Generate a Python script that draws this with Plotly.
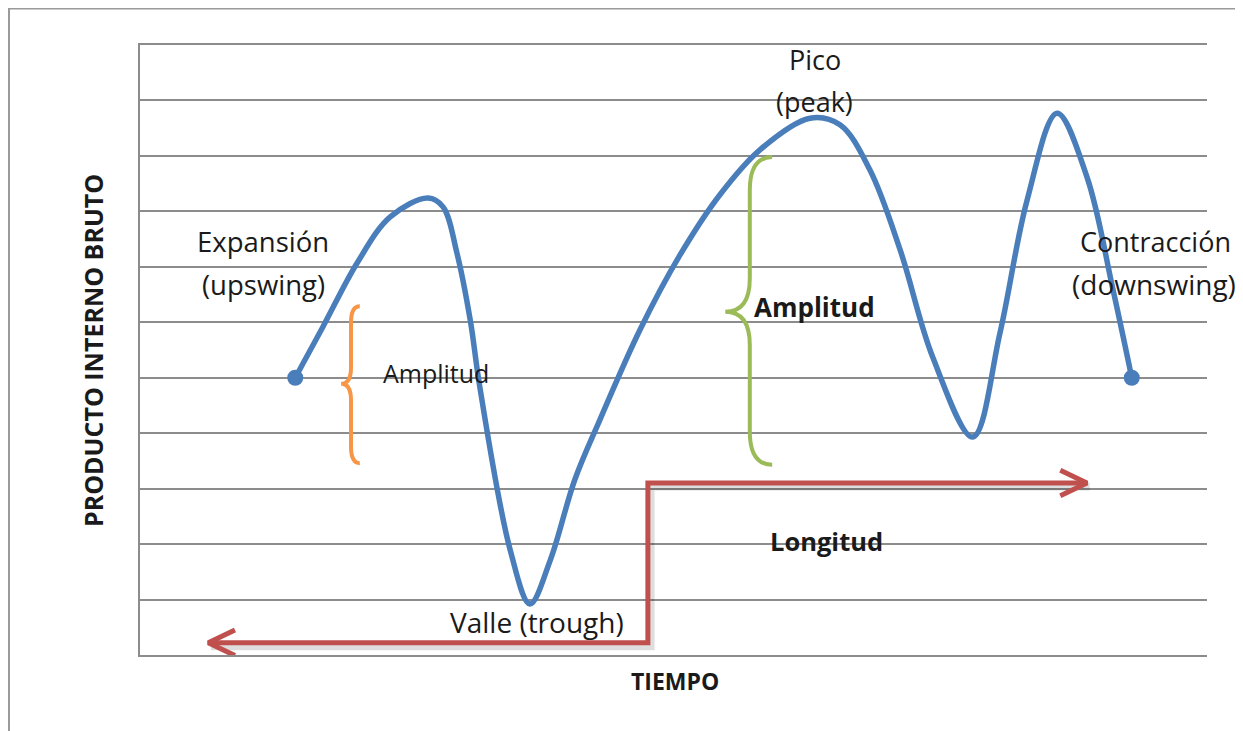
import plotly.graph_objects as go

# ---- data ----
tiempo = [2.91, 3.43, 4.07, 4.69, 5.40, 5.68, 5.94, 6.19, 6.37, 6.94, 7.31, 7.69, 8.15, 8.62,
          9.37, 10.12, 10.87, 11.62, 12.56, 13.12, 13.68, 14.25, 14.86, 15.61, 16.12, 16.63,
          17.19, 17.75, 18.24, 18.59]
pib = [5.00, 5.92, 7.07, 7.90, 8.24, 8.08, 7.25, 6.04, 4.83, 1.89, 0.92, 1.71, 3.16, 4.24,
       5.86, 7.21, 8.30, 9.11, 9.68, 9.56, 8.75, 7.30, 5.37, 3.93, 5.81, 8.21,
       9.77, 8.62, 6.58, 5.00]

longitud_x = [17.75, 9.52, 9.52, 1.28]
longitud_y = [3.10, 3.10, 0.22, 0.22]

# braces: (x_end, x_stem, x_tip, y_top, y_tip, y_bot)
brace_orange = (4.12, 3.955, 3.77, 6.29, 4.89, 3.46)
brace_green = (11.85, 11.43, 10.97, 8.98, 6.19, 3.43)

BLUE = "#4A7EBB"
RED = "#C0504D"
ORANGE = "#F79646"
GREEN = "#9BBB59"
GRID = "#8C8C8C"
TXT = "#1a1a1a"
FONT = "Open Sans"

fig = go.Figure()

# shadow of the red arrow
fig.add_trace(go.Scatter(x=[v + 0.05 for v in longitud_x], y=[v - 0.06 for v in longitud_y],
                         mode="lines", line=dict(color="rgba(0,0,0,0.13)", width=8),
                         hoverinfo="skip", showlegend=False))
# red arrow path
fig.add_trace(go.Scatter(x=longitud_x, y=longitud_y, mode="lines",
                         line=dict(color=RED, width=5), hoverinfo="skip", showlegend=False))
# arrowheads (chevrons) at both ends
ah_dx, ah_dy = 0.50, 0.23
lx, ly = longitud_x[-1], longitud_y[-1]
rx, ry = longitud_x[0], longitud_y[0]
fig.add_trace(go.Scatter(x=[lx + ah_dx, lx, lx + ah_dx], y=[ly + ah_dy, ly, ly - ah_dy], mode="lines",
                         line=dict(color=RED, width=5), hoverinfo="skip", showlegend=False))
fig.add_trace(go.Scatter(x=[rx - ah_dx, rx, rx - ah_dx], y=[ry + ah_dy, ry, ry - ah_dy], mode="lines",
                         line=dict(color=RED, width=5), hoverinfo="skip", showlegend=False))

# business cycle curve
fig.add_trace(go.Scatter(x=tiempo, y=pib, mode="lines",
                         line=dict(color=BLUE, width=5.5, shape="spline", smoothing=1.0),
                         hoverinfo="skip", showlegend=False))
fig.add_trace(go.Scatter(x=[tiempo[0], tiempo[-1]], y=[pib[0], pib[-1]], mode="markers",
                         marker=dict(color=BLUE, size=16), hoverinfo="skip", showlegend=False))


def brace_path(b, r):
    xe, xs, xt, yt, yc, yb = b
    return (f"M {xe},{yt} Q {xs},{yt} {xs},{yt - r} L {xs},{yc + r} "
            f"Q {xs},{yc} {xt},{yc} Q {xs},{yc} {xs},{yc - r} "
            f"L {xs},{yb + r} Q {xs},{yb} {xe},{yb}")


shapes = [
    dict(type="path", xref="x", yref="y", path=brace_path(brace_orange, 0.30),
         line=dict(color=ORANGE, width=4)),
    dict(type="path", xref="x", yref="y", path=brace_path(brace_green, 0.60),
         line=dict(color=GREEN, width=4)),
]

# page offset (body margin) compensation: figure starts at screen pixel 8
OFF = 8
W, H = 1243 - OFF, 731 - OFF
L_S, T_S, PW, PH = 140, 45, 1067, 610   # plot area in screen pixels


def px(xp):
    return (xp - L_S) / PW


def py(yp):
    return (T_S + PH - yp) / PH


shapes.append(dict(type="rect", xref="paper", yref="paper", x0=px(9), x1=px(1239),
                   y0=py(760), y1=py(8.5), line=dict(color="#9a9a9a", width=2), fillcolor="rgba(0,0,0,0)"))

ann = []


def txt(x, y, s, size=27, bold=False, xref="x", yref="y", angle=0):
    ann.append(dict(x=x, y=y, xref=xref, yref=yref, text=f"<b>{s}</b>" if bold else s,
                    showarrow=False, xanchor="center", yanchor="middle", textangle=angle,
                    font=dict(family=FONT, size=size, color=TXT)))


txt(2.31, 7.45, "Expansión", size=27.5)
txt(2.31, 6.69, "(upswing)", size=27.5)
txt(12.65, 10.73, "Pico", size=27)
txt(12.65, 9.99, "(peak)", size=27)
txt(19.03, 7.45, "Contracción", size=27)
txt(19.01, 6.69, "(downswing)", size=28)
txt(5.55, 5.09, "Amplitud", size=25)
txt(12.65, 6.28, "Amplitud", size=26, bold=True)
txt(12.86, 2.06, "Longitud", size=25.5, bold=True)
txt(7.44, 0.60, "Valle (trough)", size=28)
txt(px(675), py(681), "TIEMPO", size=23, bold=True, xref="paper", yref="paper")
txt(px(93), py(351), "PRODUCTO INTERNO BRUTO", size=25, bold=True, xref="paper", yref="paper", angle=-90)

fig.update_layout(
    width=W, height=H,
    margin=dict(l=L_S - OFF, r=W - (L_S - OFF) - PW, t=T_S - OFF, b=H - (T_S - OFF) - PH, pad=0),
    paper_bgcolor="white", plot_bgcolor="white",
    shapes=shapes, annotations=ann, showlegend=False,
    xaxis=dict(range=[0, 20], showgrid=False, zeroline=False, showticklabels=False,
               showline=True, mirror=True, linecolor=GRID, linewidth=2, ticks=""),
    yaxis=dict(range=[0, 11], dtick=1, showgrid=True, gridcolor=GRID, gridwidth=2,
               zeroline=False, showticklabels=False, showline=True, linecolor=GRID,
               linewidth=2, ticks=""),
)

fig.write_html("out.html")
